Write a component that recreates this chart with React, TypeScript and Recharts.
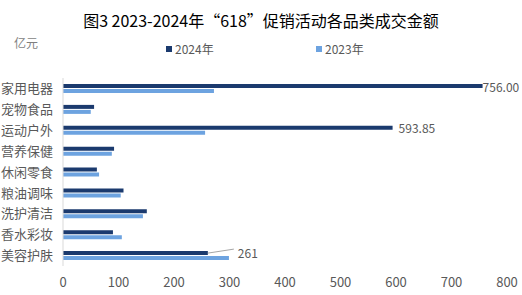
import React from 'react';
import { BarChart, Bar, XAxis, YAxis, Legend, LabelList } from 'recharts';

const categories = ['家用电器', '宠物食品', '运动户外', '营养保健', '休闲零食', '粮油调味', '洗护清洁', '香水彩妆', '美容护肤'];
const values2024 = [756, 56, 593.85, 92, 61, 109, 151, 90, 261];
const values2023 = [272, 50, 256, 88, 65, 104, 144, 106, 299];
const labels2024 = ['756.00', '', '593.85', '', '', '', '', '', '261'];
const xTicks = [0, 100, 200, 300, 400, 500, 600, 700, 800];

const data = categories.map((c, i) => ({
  name: c,
  y2024: values2024[i],
  y2023: values2023[i],
  label: labels2024[i],
}));

const FONT = '"Noto Sans CJK SC", "Noto Sans", sans-serif';
const DARK = '#1B3A6E';
const LIGHT = '#6DA3E0';
const GRAY = '#595959';

const renderLabel = (props: any) => {
  const { x, y, width, height, index } = props;
  const text = labels2024[index];
  if (!text) return null;
  const endX = x + width;
  const cy = y + height / 2;
  if (index === categories.length - 1) {
    return (
      <g>
        <line x1={endX} y1={cy} x2={endX + 26} y2={cy - 4} stroke="#A6A6A6" strokeWidth={1} />
        <text x={endX + 30} y={cy - 1} fill={GRAY} fontSize={12} fontFamily={FONT} dominantBaseline="central">
          {text}
        </text>
      </g>
    );
  }
  const offset = index === 0 ? 0 : 6;
  return (
    <text x={endX + offset} y={cy} fill={GRAY} fontSize={12} fontFamily={FONT} dominantBaseline="central">
      {text}
    </text>
  );
};

const renderLegend = () => (
  <div style={{ position: 'relative', width: 522, height: 16, fontFamily: FONT, fontSize: 12, color: GRAY }}>
    <div style={{ position: 'absolute', left: 166, top: 0, display: 'flex', alignItems: 'center' }}>
      <span style={{ display: 'inline-block', width: 6, height: 6, background: DARK, marginRight: 3 }} />
      <span>2024年</span>
    </div>
    <div style={{ position: 'absolute', left: 316, top: 0, display: 'flex', alignItems: 'center' }}>
      <span style={{ display: 'inline-block', width: 6, height: 6, background: LIGHT, marginRight: 3 }} />
      <span>2023年</span>
    </div>
  </div>
);

export default function App() {
  return (
    <div style={{ position: 'absolute', left: 0, top: 0, width: 522, height: 295, background: '#fff' }}>
      <div
        style={{
          position: 'absolute',
          left: 0,
          top: 8,
          width: 522,
          textAlign: 'center',
          fontFamily: FONT,
          fontSize: 16,
          color: '#000',
          whiteSpace: 'nowrap',
        }}
      >
        图3 2023-2024年“618”促销活动各品类成交金额
      </div>
      <div style={{ position: 'absolute', left: 14, top: 34, fontFamily: FONT, fontSize: 12, color: '#7F7F7F' }}>
        亿元
      </div>
      <BarChart
        width={522}
        height={295}
        data={data}
        layout="vertical"
        margin={{ top: 62, right: 15, left: 0, bottom: 0 }}
        barSize={4}
        barGap={1}
      >
        <Legend
          verticalAlign="top"
          content={renderLegend}
          wrapperStyle={{ position: 'absolute', top: 40, left: 0, width: 522 }}
        />
        <XAxis
          type="number"
          domain={[0, 800]}
          ticks={xTicks}
          axisLine={false}
          tickLine={false}
          tickSize={0}
          tickMargin={12}
          height={29}
          tick={{ fill: GRAY, fontSize: 13, fontFamily: FONT }}
          interval={0}
        />
        <YAxis
          type="category"
          dataKey="name"
          width={63}
          axisLine={{ stroke: '#D9D9D9' }}
          tickLine={false}
          tickSize={0}
          tickMargin={10}
          tick={{ fill: GRAY, fontSize: 13, fontFamily: FONT }}
          interval={0}
        />
        <Bar dataKey="y2024" fill={DARK} isAnimationActive={false}>
          <LabelList dataKey="label" content={renderLabel} />
        </Bar>
        <Bar dataKey="y2023" fill={LIGHT} isAnimationActive={false} />
      </BarChart>
    </div>
  );
}
